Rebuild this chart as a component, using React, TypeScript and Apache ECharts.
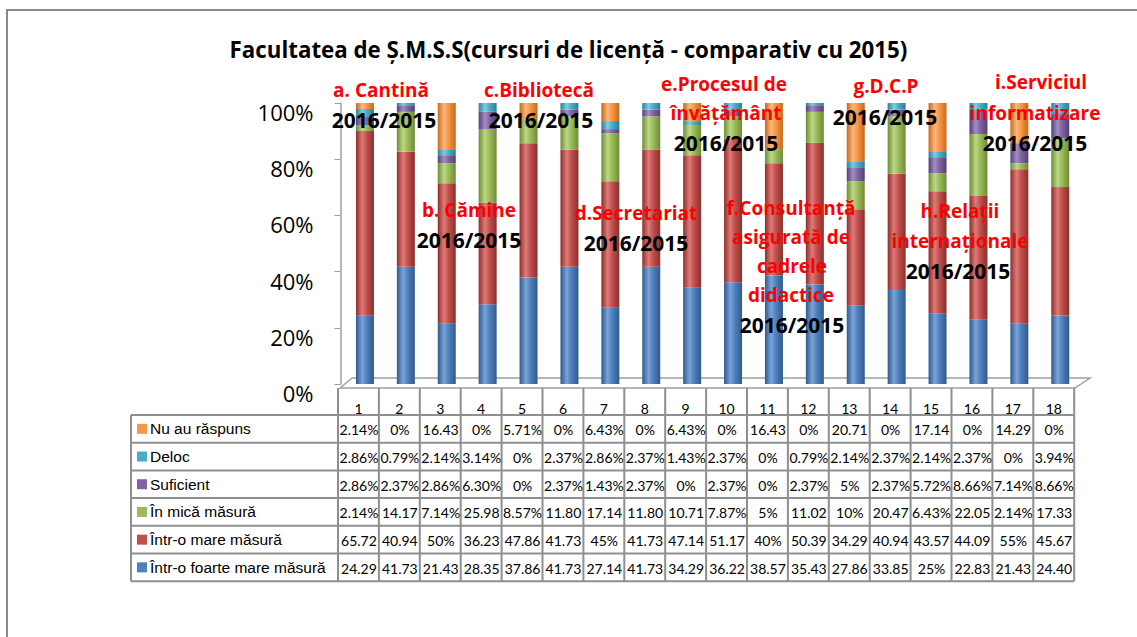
import React, { useEffect, useRef } from "react";
import * as echarts from "echarts";

const categories = ["1","2","3","4","5","6","7","8","9","10","11","12","13","14","15","16","17","18"];
const seriesNames = [
  "Într-o foarte mare măsură",
  "Într-o mare măsură",
  "În mică măsură",
  "Suficient",
  "Deloc",
  "Nu au răspuns",
];
const foarteMare = [24.29,41.73,21.43,28.35,37.86,41.73,27.14,41.73,34.29,36.22,38.57,35.43,27.86,33.85,25,22.83,21.43,24.40];
const mare = [65.72,40.94,50,36.23,47.86,41.73,45,41.73,47.14,51.17,40,50.39,34.29,40.94,43.57,44.09,55,45.67];
const mica = [2.14,14.17,7.14,25.98,8.57,11.80,17.14,11.80,10.71,7.87,5,11.02,10,20.47,6.43,22.05,2.14,17.33];
const suficient = [2.86,2.37,2.86,6.30,0,2.37,1.43,2.37,0,2.37,0,2.37,5,2.37,5.72,8.66,7.14,8.66];
const deloc = [2.86,0.79,2.14,3.14,0,2.37,2.86,2.37,1.43,2.37,0,0.79,2.14,2.37,2.14,2.37,0,3.94];
const nuAuRaspuns = [2.14,0,16.43,0,5.71,0,6.43,0,6.43,0,16.43,0,20.71,0,17.14,0,14.29,0];
const yTicks = ["0%","20%","40%","60%","80%","100%"];

const seriesData = [foarteMare, mare, mica, suficient, deloc, nuAuRaspuns];
const colors = ["#4F81BD","#C0504D","#9BBB59","#8064A2","#4BACC6","#F79646"];
const darks = ["#2f5a8e","#8c2f2c","#6e8c36","#553f78","#2a7f97","#c66a1c"];
const lights = ["#7aa3d8","#e07a77","#bcd886","#a48cc4","#80cde0","#fbb77a"];

// annotation labels: [text, color, x, y]
const annotations: [string, string, number, number][] = [
  ["a. Cantină", "#ff0000", 381, 90],
  ["2016/2015", "#000000", 384, 120],
  ["c.Bibliotecă", "#ff0000", 539, 90],
  ["2016/2015", "#000000", 541, 120],
  ["e.Procesul de", "#ff0000", 724, 84],
  ["învățământ", "#ff0000", 726, 113],
  ["2016/2015", "#000000", 726, 143],
  ["g.D.C.P", "#ff0000", 886, 86],
  ["2016/2015", "#000000", 885, 117],
  ["i.Serviciul", "#ff0000", 1041, 82],
  ["informatizare", "#ff0000", 1035, 113],
  ["2016/2015", "#000000", 1035, 143],
  ["b. Cămine", "#ff0000", 469, 210],
  ["2016/2015", "#000000", 469, 240],
  ["d.Secretariat", "#ff0000", 636, 213],
  ["2016/2015", "#000000", 636, 243],
  ["f.Consultanță", "#ff0000", 791, 208],
  ["asigurată de", "#ff0000", 791, 237],
  ["cadrele", "#ff0000", 792, 266],
  ["didactice", "#ff0000", 791, 295],
  ["2016/2015", "#000000", 792, 325],
  ["h.Relații", "#ff0000", 960, 211],
  ["internaționale", "#ff0000", 960, 241],
  ["2016/2015", "#000000", 958, 271],
];

function fmt(v: number): string {
  if (Number.isInteger(v)) return v + "%";
  if (v < 10) return v.toFixed(2) + "%";
  return v.toFixed(2);
}

export default function App() {
  const ref = useRef<HTMLDivElement>(null);
  useEffect(() => {
    if (!ref.current) return;
    const chart = echarts.init(ref.current, null, { renderer: "svg" });

    const gridLeft = 344.5;
    const colW = 40.9;
    const gridRight = 1137 - (gridLeft + colW * categories.length);
    const gridTop = 103;
    const gridBottom = 637 - 384;

    const graphics: any[] = [];
    graphics.push({
      type: "rect",
      shape: { x: 7, y: 10, width: 1150, height: 650 },
      style: { fill: "none", stroke: "#8a8a8a", lineWidth: 2 },
      z: 0,
    });
    graphics.push({
      type: "polygon",
      shape: { points: [[340, 388], [352, 378], [1090, 378], [1075, 388]] },
      style: { fill: "#ffffff", stroke: "#a0a0a0", lineWidth: 1.5 },
      z: 0,
    });

    const tableLeft = 338;
    const legendLeft = 131;
    const rowTop = 415;
    const rowH = 27.7;
    const headerTop = 388;
    const nRows = seriesNames.length;
    const tableBottom = rowTop + rowH * nRows;
    const lineStyle = { stroke: "#8f8f8f", lineWidth: 2 };
    for (let i = 0; i <= categories.length; i++) {
      const x = tableLeft + colW * i;
      graphics.push({ type: "line", shape: { x1: x, y1: headerTop, x2: x, y2: tableBottom }, style: lineStyle, z: 5 });
    }
    for (let r = 0; r <= nRows; r++) {
      const y = rowTop + rowH * r;
      graphics.push({ type: "line", shape: { x1: legendLeft, y1: y, x2: tableLeft + colW * categories.length, y2: y }, style: lineStyle, z: 5 });
    }
    graphics.push({ type: "line", shape: { x1: legendLeft, y1: rowTop, x2: legendLeft, y2: tableBottom }, style: lineStyle, z: 5 });

    for (let r = 0; r < nRows; r++) {
      const si = nRows - 1 - r;
      const cy = rowTop + rowH * r + rowH / 2;
      graphics.push({
        type: "rect",
        shape: { x: legendLeft + 6, y: cy - 5, width: 10, height: 10 },
        style: { fill: colors[si] },
        z: 6,
      });
      graphics.push({
        type: "text",
        x: legendLeft + 19,
        y: cy,
        style: { text: seriesNames[si], fill: "#000", font: "15.5px 'Liberation Sans', Arial, sans-serif", align: "left", verticalAlign: "middle" },
        z: 6,
      });
      seriesData[si].forEach((v, i) => {
        graphics.push({
          type: "text",
          x: tableLeft + colW * i + colW / 2 + 0.5,
          y: cy + 1,
          style: { text: fmt(v), fill: "#000", font: "14px Lato, sans-serif", align: "center", verticalAlign: "middle" },
          z: 6,
        });
      });
    }

    annotations.forEach(([t, c, x, y]) => {
      const isYear = c === "#000000";
      graphics.push({
        type: "text",
        x,
        y,
        style: { text: t, fill: c, font: `bold ${isYear ? 21 : 19}px 'Open Sans', sans-serif`, align: "center", verticalAlign: "middle" },
        z: 20,
      });
    });

    const series = seriesNames.map((name, si) => ({
      name,
      type: "bar",
      stack: "total",
      barWidth: 18,
      data: seriesData[si],
      itemStyle: {
        color: new echarts.graphic.LinearGradient(0, 0, 1, 0, [
          { offset: 0, color: darks[si] },
          { offset: 0.35, color: lights[si] },
          { offset: 0.6, color: colors[si] },
          { offset: 1, color: darks[si] },
        ]),
      },
      z: 3,
    }));

    chart.setOption({
      animation: false,
      backgroundColor: "#ffffff",
      title: {
        text: "Facultatea de Ș.M.S.S(cursuri de licență - comparativ cu 2015)",
        left: "center",
        top: 33,
        textStyle: { fontFamily: "'Open Sans', sans-serif", fontWeight: "bold", fontSize: 22.3, color: "#000" },
      },
      grid: { left: gridLeft, right: gridRight, top: gridTop, bottom: gridBottom },
      xAxis: {
        type: "category",
        data: categories,
        axisLine: { show: false },
        axisTick: { show: false },
        axisLabel: { color: "#000", fontFamily: "Lato, sans-serif", fontSize: 14, margin: 17, padding: [0, 13, 0, 0] },
      },
      yAxis: {
        type: "value",
        min: 0,
        max: 100,
        interval: 20,
        offset: 4,
        splitLine: { show: false },
        axisLine: { show: true, lineStyle: { color: "#a0a0a0", width: 1.5 } },
        axisTick: { show: true, length: 6, lineStyle: { color: "#a0a0a0" } },
        axisLabel: {
          color: "#000",
          fontFamily: "'Open Sans', sans-serif",
          fontSize: 22,
          margin: 27,
          verticalAlign: "top",
          lineHeight: 18,
          formatter: (v: number) => yTicks[Math.round(v / 20)],
        },
      },
      series,
      graphic: graphics,
    });
    return () => chart.dispose();
  }, []);
  return <div ref={ref} style={{ position: "absolute", left: 0, top: 0, width: 1137, height: 637, background: "#fff" }} />;
}
